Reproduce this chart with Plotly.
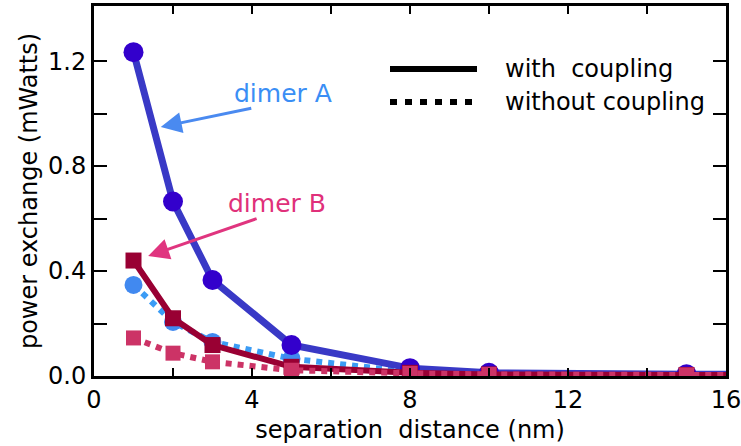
import plotly.graph_objects as go

# ---- data ----
separation_nm = [1, 2, 3, 5, 8, 10, 15, 20]
dimerA_coupled = [1.234, 0.665, 0.366, 0.118, 0.030, 0.012, 0.007, 0.006]
dimerA_uncoupled = [0.347, 0.206, 0.130, 0.066, 0.015, 0.008, 0.005, 0.005]
dimerB_coupled = [0.440, 0.220, 0.118, 0.035, 0.012, 0.006, 0.004, 0.004]
dimerB_uncoupled = [0.145, 0.087, 0.054, 0.022, 0.010, 0.006, 0.004, 0.004]

x_tickvals = [0, 2, 4, 6, 8, 10, 12, 14, 16]
x_ticktext = ["0", "", "4", "", "8", "", "12", "", "16"]
y_tickvals = [0, 0.2, 0.4, 0.6, 0.8, 1.0, 1.2]
y_ticktext = ["0.0", "", "0.4", "", "0.8", "", "1.2"]

FONT = "DejaVu Sans"

fig = go.Figure()

fig.add_trace(go.Scatter(
    x=separation_nm, y=dimerA_uncoupled, mode="lines+markers",
    line=dict(color="#3b9cf5", width=6, dash="dot"),
    marker=dict(color="#4189f0", size=18, symbol="circle"),
    showlegend=False))
fig.add_trace(go.Scatter(
    x=separation_nm, y=dimerA_coupled, mode="lines+markers",
    line=dict(color="#3939c6", width=7),
    marker=dict(color="#3300cc", size=20, symbol="circle"),
    showlegend=False))
fig.add_trace(go.Scatter(
    x=separation_nm, y=dimerB_coupled, mode="lines+markers",
    line=dict(color="#990033", width=6),
    marker=dict(color="#990033", size=16, symbol="square"),
    showlegend=False))
fig.add_trace(go.Scatter(
    x=separation_nm, y=dimerB_uncoupled, mode="lines+markers",
    line=dict(color="#cc3366", width=6, dash="dot"),
    marker=dict(color="#cc3366", size=15, symbol="square"),
    showlegend=False))

# annotations: labels with arrows
fig.add_annotation(x=1.69, y=0.949, xref="x", yref="y", ax=92, ay=-19,
                   text="", showarrow=True, arrowhead=2, arrowsize=1.4,
                   arrowwidth=3, arrowcolor="#4a8af0")
fig.add_annotation(x=1.37, y=0.457, xref="x", yref="y", ax=110, ay=-38,
                   text="", showarrow=True, arrowhead=2, arrowsize=1.4,
                   arrowwidth=3, arrowcolor="#e0357f")
fig.add_annotation(x=(283 - 94) / 632, y=(376 - 93) / 370, xref="paper", yref="paper",
                   text="dimer A", showarrow=False, xanchor="center", yanchor="middle",
                   font=dict(family=FONT, size=25, color="#3a8ef5"))
fig.add_annotation(x=(277 - 94) / 632, y=(376 - 203) / 370, xref="paper", yref="paper",
                   text="dimer B", showarrow=False, xanchor="center", yanchor="middle",
                   font=dict(family=FONT, size=25, color="#e0307a"))

# legend (drawn manually)
lx0, lx1 = (390 - 94) / 632, (477 - 94) / 632
y_solid, y_dot = (376 - 69) / 370, (376 - 102) / 370
fig.add_shape(type="line", xref="paper", yref="paper", x0=lx0, x1=lx1, y0=y_solid, y1=y_solid,
              line=dict(color="black", width=6))
fig.add_shape(type="line", xref="paper", yref="paper", x0=lx0, x1=lx1, y0=y_dot, y1=y_dot,
              line=dict(color="black", width=6, dash="7px,8px"))
fig.add_annotation(x=(503 - 94) / 632, y=y_solid, xref="paper", yref="paper",
                   text="with  coupling", showarrow=False, xanchor="left", yanchor="middle",
                   font=dict(family=FONT, size=24, color="black"))
fig.add_annotation(x=(503 - 94) / 632, y=y_dot, xref="paper", yref="paper",
                   text="without coupling", showarrow=False, xanchor="left", yanchor="middle",
                   font=dict(family=FONT, size=24, color="black"))

axis_common = dict(showgrid=False, zeroline=False, showline=True, linecolor="black",
                   linewidth=3, mirror="ticks", ticks="inside", tickcolor="black",
                   tickwidth=2, ticklabeloverflow="allow", automargin=False,
                   tickfont=dict(family=FONT, size=24, color="black"))

fig.update_xaxes(range=[0, 16], tickmode="array", tickvals=x_tickvals, ticktext=x_ticktext,
                 ticklen=8,
                 title=dict(text="separation  distance (nm)", standoff=9,
                            font=dict(family=FONT, size=24, color="black")),
                 **axis_common)
fig.update_yaxes(range=[0, 1.41], tickmode="array", tickvals=y_tickvals, ticktext=y_ticktext,
                 ticklen=13,
                 title=dict(text="power exchange (mWatts)", standoff=4,
                            font=dict(family=FONT, size=24, color="black")),
                 **axis_common)

fig.update_layout(width=741, height=446, margin=dict(l=94, r=15, t=6, b=70),
                  plot_bgcolor="white", paper_bgcolor="white",
                  font=dict(family=FONT, size=24, color="black"))

fig.write_html("out.html")
